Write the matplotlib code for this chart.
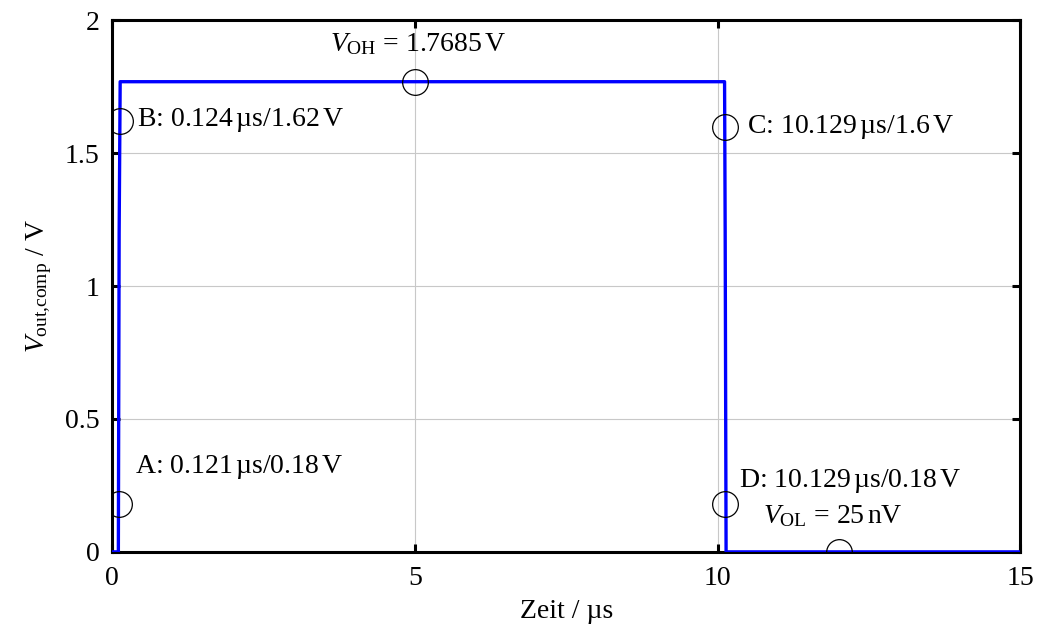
import matplotlib
matplotlib.use("Agg")
import matplotlib.pyplot as plt

plt.rcParams['font.family'] = ['Liberation Serif', 'DejaVu Serif']
plt.rcParams['mathtext.fontset'] = 'custom'
plt.rcParams['mathtext.rm'] = 'Liberation Serif'
plt.rcParams['mathtext.it'] = 'Liberation Serif:italic'
plt.rcParams.update({'font.size': 20})

# waveform of comparator output
t_us = [0, 0.105, 0.118, 0.135, 10.115, 10.125, 10.14, 15]
v_out = [0, 0, 1.2, 1.7685, 1.7685, 1.2, 0.0, 0.0]

# marked points
mark_t = [0.121, 0.124, 5.0, 10.129, 10.129, 12.0]
mark_v = [0.18, 1.62, 1.7685, 1.6, 0.18, 0.0]

fig = plt.figure(figsize=(10.37, 6.30), dpi=100)
ax = fig.add_axes([0.108, 0.124, 0.876, 0.844])

ax.plot(t_us, v_out, color='#0000ff', linewidth=2.4, zorder=3)
ax.plot(mark_t, mark_v, linestyle='none', marker='o', markersize=18.5,
        markerfacecolor='none', markeredgecolor='black', markeredgewidth=0.9, zorder=4)

ax.text(0.38, 0.32, r'A: 0.121$\,$µs/0.18$\,$V', va='center', ha='left')
ax.text(0.42, 1.624, r'B: 0.124$\,$µs/1.62$\,$V', va='center', ha='left')
ax.text(10.48, 1.60, r'C: 10.129$\,$µs/1.6$\,$V', va='center', ha='left')
ax.text(10.36, 0.265, r'D: 10.129$\,$µs/0.18$\,$V', va='center', ha='left')
ax.text(10.75, 0.135, r'$V_{\mathrm{OL}}$ = 25$\,$nV', va='center', ha='left')
ax.text(5.05, 1.91, r'$V_{\mathrm{OH}}$ = 1.7685$\,$V', va='center', ha='center')

ax.set_xlim(0, 15)
ax.set_ylim(0, 2)
ax.set_xticks([0, 5, 10, 15])
ax.set_xticklabels(['0', '5', '10', '15'])
ax.set_yticks([0, 0.5, 1, 1.5, 2])
ax.set_yticklabels(['0', '0.5', '1', '1.5', '2'])
ax.grid(True, color='#c8c8c8', linewidth=0.8)
ax.set_axisbelow(True)
ax.tick_params(direction='in', length=6, width=2.2, top=True, right=True)
ax.tick_params(axis='x', pad=10)
ax.tick_params(axis='y', pad=9)
for s in ax.spines.values():
    s.set_linewidth(2.2)

ax.set_xlabel('Zeit / µs', labelpad=6)
ax.set_ylabel(r'$V_{\mathrm{out{,}comp}}$ / V', labelpad=8)

plt.savefig("out.png", dpi=100)
